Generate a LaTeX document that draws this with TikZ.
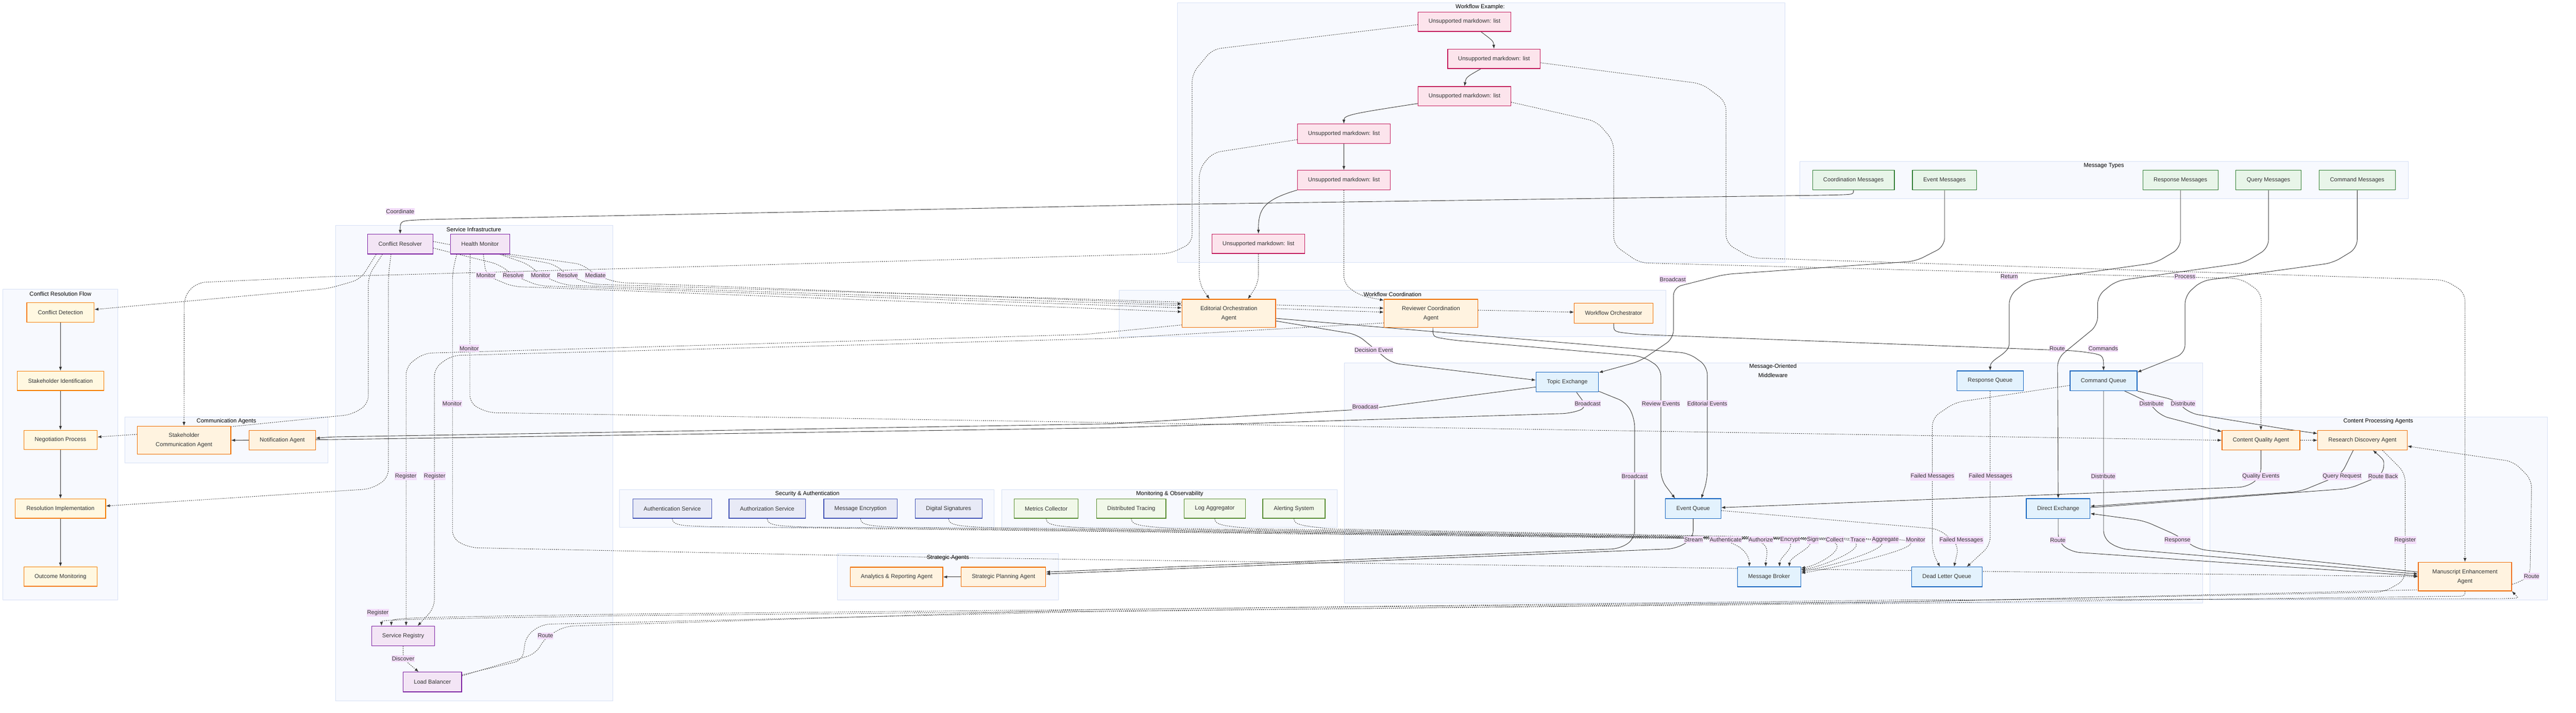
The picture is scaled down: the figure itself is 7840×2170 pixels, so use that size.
\documentclass[tikz,border=0pt]{standalone}
\usepackage{fontspec}
\setmainfont{Liberation Sans}
\usetikzlibrary{arrows.meta,calc}
\definecolor{txt}{HTML}{333333}
\definecolor{edgec}{HTML}{333333}
\definecolor{clfill}{HTML}{F7F9FE}
\definecolor{cldraw}{HTML}{D6E0F5}
\definecolor{labfill}{HTML}{F3DDFA}
\definecolor{wffill}{HTML}{FCE4EC}\definecolor{wfdraw}{HTML}{C2185B}
\definecolor{mtfill}{HTML}{E8F5E9}\definecolor{mtdraw}{HTML}{2E7D32}
\definecolor{qfill}{HTML}{E3F2FD}\definecolor{qdraw}{HTML}{1565C0}
\definecolor{agfill}{HTML}{FFF3E0}\definecolor{agdraw}{HTML}{EF6C00}
\definecolor{flfill}{HTML}{FFF8E1}\definecolor{fldraw}{HTML}{F57C00}
\definecolor{infill}{HTML}{F3E5F5}\definecolor{indraw}{HTML}{7B1FA2}
\definecolor{sefill}{HTML}{E8EAF6}\definecolor{sedraw}{HTML}{3F51B5}
\definecolor{mofill}{HTML}{F1F8E9}\definecolor{modraw}{HTML}{558B2F}
\begin{document}
\begin{tikzpicture}[x=1pt,y=-1pt,
  font=\fontsize{17.5}{28}\selectfont,
  box/.style={draw, line width=2pt, align=center, inner sep=0pt, text=txt, minimum height=59pt},
  wf/.style={box, fill=wffill, draw=wfdraw},
  mt/.style={box, fill=mtfill, draw=mtdraw, minimum height=60pt},
  qu/.style={box, fill=qfill, draw=qdraw, minimum height=60pt},
  ag/.style={box, fill=agfill, draw=agdraw},
  fl/.style={box, fill=flfill, draw=fldraw},
  inf/.style={box, fill=infill, draw=indraw, minimum height=60pt},
  sec/.style={box, fill=sefill, draw=sedraw},
  mon/.style={box, fill=mofill, draw=modraw},
  clus/.style={fill=clfill, draw=cldraw, line width=1.2pt},
  ctitle/.style={text=black, inner sep=0pt, align=center},
  elab/.style={fill=labfill, text=txt, inner xsep=1pt, inner ysep=4pt},
  e/.style={draw=edgec, line width=1.4pt, -{Latex[length=12pt,width=9pt]}, rounded corners=25pt},
  ed/.style={e, dash pattern=on 3pt off 3pt},
  dl/.style={draw=edgec, line width=1.4pt, dash pattern=on 3pt off 3pt, rounded corners=25pt}
]
\fill[white] (0,0) rectangle (7840,2170);
\useasboundingbox (0,0) rectangle (7840,2170);

% ---------- clusters ----------
\draw[clus] (3584,8) rectangle (5432,798);
\node[ctitle] (t1) at (4505,22) {Workflow Example:};
\draw[clus] (5478,491) rectangle (7329,605);
\node[ctitle] (t2) at (6403,505) {Message Types};
\draw[clus] (3407,883) rectangle (5070,1025);
\node[ctitle] (t3) at (4238,896) {Workflow Coordination};
\draw[clus] (1021,686) rectangle (1865,2133);
\node[ctitle] (t4) at (1442,699) {Service Infrastructure};
\draw[clus] (8,881) rectangle (358,1825);
\node[ctitle] (t5) at (184,894) {Conflict Resolution Flow};
\draw[clus] (380,1269) rectangle (998,1409);
\node[ctitle] (t6) at (689,1282) {Communication Agents};
\draw[clus] (1886,1490) rectangle (3026,1604);
\node[ctitle] (t7) at (2457,1503) {Security \& Authentication};
\draw[clus] (3048,1490) rectangle (4070,1604);
\node[ctitle] (t8) at (3560,1503) {Monitoring \& Observability};
\draw[clus] (2549,1685) rectangle (3221,1825);
\node[ctitle] (t9) at (2885,1698) {Strategic Agents};
\draw[clus] (4092,1105) rectangle (6704,1835);
\node[ctitle] (t10) at (5396,1128) {Message-Oriented\\Middleware};
\draw[clus] (6725,1269) rectangle (7752,1825);
\node[ctitle] (t11) at (7238,1282) {Content Processing Agents};

% ---------- nodes (coordinates only, drawn later) ----------
\path
 (4457,66) coordinate (pw1) (4547,179) coordinate (pw2);

% node definitions (drawn first invisibly to get anchors)
\begin{scope}[every node/.append style={opacity=0}]
\end{scope}

% We draw nodes now; edges are drawn on the background layer via later ordering trick:
% (nodes are redrawn after the edges so edges pass behind them)
\newcommand{\allnodes}{%
\node[wf, minimum width=282pt] (w1) at (4457,66) {Unsupported markdown: list};
\node[wf, minimum width=282pt] (w2) at (4547,179) {Unsupported markdown: list};
\node[wf, minimum width=282pt] (w3) at (4457,293) {Unsupported markdown: list};
\node[wf, minimum width=282pt] (w4) at (4090,407) {Unsupported markdown: list};
\node[wf, minimum width=282pt] (w5) at (4090,548) {Unsupported markdown: list};
\node[wf, minimum width=282pt] (w6) at (3830,742) {Unsupported markdown: list};
\node[mt, minimum width=249pt] (coordm) at (5641,548) {Coordination Messages};
\node[mt, minimum width=195pt] (eventm) at (5918,548) {Event Messages};
\node[mt, minimum width=229pt] (respm) at (6636,548) {Response Messages};
\node[mt, minimum width=199pt] (querym) at (6904,548) {Query Messages};
\node[mt, minimum width=232pt] (cmdm) at (7174,548) {Command Messages};
\node[ag, minimum width=285pt, minimum height=86pt] (eoa) at (3740,954) {Editorial Orchestration\\Agent};
\node[ag, minimum width=285pt, minimum height=86pt] (rca) at (4355,954) {Reviewer Coordination\\Agent};
\node[ag, minimum width=239pt, minimum height=61pt] (wo) at (4911,953) {Workflow Orchestrator};
\node[inf, minimum width=199pt] (cr) at (1218,743) {Conflict Resolver};
\node[inf, minimum width=180pt] (hm) at (1461,743) {Health Monitor};
\node[inf, minimum width=192pt] (sr) at (1227,1936) {Service Registry};
\node[inf, minimum width=178pt] (lb) at (1316,2076) {Load Balancer};
\node[fl, minimum width=205pt] (cd) at (184,951) {Conflict Detection};
\node[fl, minimum width=263pt] (si) at (184,1159) {Stakeholder Identification};
\node[fl, minimum width=223pt] (np) at (184,1339) {Negotiation Process};
\node[fl, minimum width=275pt] (ri) at (184,1548) {Resolution Implementation};
\node[fl, minimum width=223pt] (om) at (184,1755) {Outcome Monitoring};
\node[ag, minimum width=285pt, minimum height=85pt] (sca) at (560,1340) {Stakeholder\\Communication Agent};
\node[ag, minimum width=202pt] (na) at (859,1340) {Notification Agent};
\node[sec, minimum width=240pt] (authn) at (2046,1548) {Authentication Service};
\node[sec, minimum width=233pt] (authz) at (2335,1548) {Authorization Service};
\node[sec, minimum width=224pt] (enc) at (2619,1548) {Message Encryption};
\node[sec, minimum width=204pt] (sig) at (2887,1548) {Digital Signatures};
\node[mon, minimum width=195pt] (metrics) at (3184,1548) {Metrics Collector};
\node[mon, minimum width=211pt] (tracing) at (3443,1548) {Distributed Tracing};
\node[mon, minimum width=187pt] (logagg) at (3697,1548) {Log Aggregator};
\node[mon, minimum width=190pt] (alert) at (3938,1548) {Alerting System};
\node[ag, minimum width=281pt] (ara) at (2729,1756) {Analytics \& Reporting Agent};
\node[ag, minimum width=257pt] (spa) at (3054,1756) {Strategic Planning Agent};
\node[qu, minimum width=190pt] (te) at (4770,1163) {Topic Exchange};
\node[qu, minimum width=203pt] (rq) at (6057,1159) {Response Queue};
\node[qu, minimum width=204pt] (cq) at (6402,1159) {Command Queue};
\node[qu, minimum width=169pt] (eq) at (5153,1548) {Event Queue};
\node[qu, minimum width=194pt] (de) at (6264,1548) {Direct Exchange};
\node[qu, minimum width=193pt] (mb) at (5384,1756) {Message Broker};
\node[qu, minimum width=215pt] (dlq) at (5925,1756) {Dead Letter Queue};
\node[ag, minimum width=237pt] (cqa) at (6881,1340) {Content Quality Agent};
\node[ag, minimum width=272pt] (rda) at (7190,1340) {Research Discovery Agent};
\node[ag, minimum width=284pt, minimum height=87pt] (mea) at (7502,1755) {Manuscript Enhancement\\Agent};
}
% first pass: define anchors invisibly
\begin{scope}[opacity=0]
\allnodes
\end{scope}

% ---------- edges ----------
% workflow chain
\draw[e] ($(w1.south)+(50,0)$) .. controls (4545,125) .. (w2.north);
\draw[e] ($(w2.south)+(-40,0)$) .. controls (4462,235) .. (w3.north);
\draw[e] ($(w3.west)+(0,22)$) .. controls (4120,345) and (4090,350) .. (w4.north);
\draw[e] (w4.south) -- (w5.north);
\draw[e] (w5.south west) .. controls (3840,610) and (3830,640) .. (w6.north);
% workflow dotted
\draw[ed] ($(w1.west)+(0,9)$) -- (3690,150) -- (3628,225) -- (3628,740) -- (3560,772) -- (1000,842) -- (600,860) -- (561,900) -- (sca.north);
\draw[ed] ($(w2.east)+(0,12)$) -- (5180,255) -- (5253,310) -- (5253,740) -- (5330,785) -- (7440,852) -- (7502,890) -- (mea.north);
\draw[ed] ($(w3.east)+(0,18)$) -- (4860,370) -- (4911,430) -- (4911,745) -- (4990,800) -- (6820,848) -- (6882,890) -- (cqa.north);
\draw[ed] ($(w4.west)+(0,18)$) -- (3690,465) -- (3650,515) -- (3650,865) -- ($(eoa.north)+(-59,0)$);
\draw[ed] (w5.south) -- (4090,865) -- (4140,900) -- ($(rca.north west)+(0,4)$);
\draw[ed] (w6.south) -- (3830,862) -- ($(eoa.north)+(58,0)$);
% message types
\draw[e] (coordm.south) .. controls (5641,592) .. (5560,594) -- (3580,622) -- (1300,668) .. controls (1218,672) .. (cr.north);
\draw[e] (eventm.south) -- (5918,750) -- (5830,795) -- (5250,835) -- (5093,875) -- (5093,1030) -- (4990,1100) -- ($(te.north east)+(0,2)$);
\draw[e] (respm.south) -- (6636,755) -- (6560,800) -- (6170,855) -- (6115,900) -- (6115,1020) .. controls (6115,1080) and (6057,1090) .. (rq.north);
\draw[e] (querym.south) -- (6904,755) -- (6830,800) -- (6440,855) -- (6384,900) -- (6384,990) -- (6262,1090) -- (de.north);
\draw[e] (cmdm.south) -- (7174,755) -- (7100,800) -- (6700,855) -- (6650,900) -- (6650,1075) -- ($(cq.north east)+(0,5)$);
\draw[e] (wo.south) .. controls (4911,1010) .. (4990,1018) -- (6320,1068) .. controls (6402,1080) .. (cq.north);
% EOA / RCA
\draw[e] ($(eoa.east)+(0,23)$) -- (4130,1018) -- (4181,1060) -- (4235,1105) -- ($(te.west)+(0,-6)$);
\draw[e] ($(eoa.east)+(0,15)$) -- (5140,1075) -- (5196,1115) -- (5196,1460) -- ($(eq.north)+(25,0)$);
\draw[e] ($(rca.south)+(6,0)$) .. controls (4361,1025) .. (4420,1035) -- (5000,1085) -- (5055,1120) -- (5055,1460) -- ($(eq.north)+(-55,0)$);
\draw[ed] ($(rca.east)+(0,-10)$) -- ($(wo.west)+(0,-3)$);
\draw[ed] ($(eoa.west)+(0,35)$) -- (3300,1018) -- (1290,1075) -- (1236,1115) -- ($(sr.north)+(9,0)$);
\draw[ed] ($(rca.west)+(0,29)$) -- (3380,1030) -- (1375,1082) -- (1322,1120) -- (1322,1850) -- ($(sr.north)+(44,0)$);
% health monitor / conflict resolver
\draw[ed] ($(hm.south)+(10,0)$) -- (1479,838) -- (1560,872) -- ($(eoa.west)+(0,-5)$);
\draw[ed] ($(cr.east)+(0,12)$) -- (1520,805) -- (1562,838) -- (1640,870) -- ($(eoa.west)+(0,-17)$);
\draw[ed] ($(hm.south)+(60,0)$) -- (1610,805) -- (1645,838) -- (1720,868) -- ($(rca.west)+(0,-4)$);
\draw[ed] ($(cr.east)+(0,-8)$) -- (1690,805) -- (1727,838) -- (1800,865) -- ($(rca.west)+(0,-16)$);
\draw[ed] (hm.south east) -- (1775,805) -- (1812,838) -- (1880,860) -- ($(eoa.west)+(0,-29)$);
\draw[ed] ($(cr.south)+(-73,0)$) -- (1097,850) -- (1000,878) -- ($(cd.east)+(0,-9)$);
\draw[dl] ($(cr.south)+(-54,0)$) -- (1121,840) -- (1121,1230) -- (1070,1262) -- ($(sca.north east)+(0,2)$);
\draw[ed] ($(cr.south)+(-28,0)$) -- (1182,840) -- (1182,1455) -- (1130,1488) -- ($(ri.east)+(0,-8)$);
\draw[ed] ($(hm.south)+(-30,0)$) -- (1430,830) -- (1430,1228) -- (1485,1256) -- (cqa.west);
\draw[ed] ($(hm.south)+(-71,0)$) -- (1377,830) -- (1377,1640) -- (1430,1667) -- (2886,1697) -- (5288,1730) -- (mea.west);
% topic exchange
\draw[e] ($(te.west)+(0,15)$) -- (4160,1245) -- (3380,1290) -- (1000,1330) -- ($(na.east)+(0,-6)$);
\draw[e] ($(te.south)+(28,0)$) -- (4832,1240) -- (4780,1258) -- (3380,1302) -- (1000,1338) -- (sca.east);
\draw[e] ($(te.south east)+(0,-3)$) -- (4950,1225) -- (4975,1275) -- (4975,1640) -- (4930,1670) -- ($(spa.east)+(0,-15)$);
\draw[e] (eq.south) -- (5153,1640) -- (5100,1670) -- ($(spa.east)+(0,-9)$);
\draw[e] (spa.west) -- (ara.east);
% security & monitoring -> broker
\draw[ed] (authn.south) .. controls (2046,1598) and (2076,1600) .. (2156,1603) -- (5182,1640) .. controls (5300,1646) and (5324,1690) .. ($(mb.north)+(-60,0)$);
\draw[ed] (authz.south) .. controls (2335,1598) and (2365,1600) .. (2445,1604) -- (5289,1640) .. controls (5400,1646) and (5374,1690) .. ($(mb.north)+(-10,0)$);
\draw[ed] (enc.south) .. controls (2619,1598) and (2649,1600) .. (2729,1605) -- (5378,1640) .. controls (5500,1646) and (5416,1690) .. ($(mb.north)+(32,0)$);
\draw[ed] (sig.south) .. controls (2887,1598) and (2917,1600) .. (2997,1606) -- (5447,1640) .. controls (5570,1646) and (5446,1690) .. ($(mb.north)+(62,0)$);
\draw[ed] (metrics.south) .. controls (3184,1598) and (3214,1600) .. (3294,1607) -- (5514,1641) .. controls (5660,1648) and (5540,1720) .. ($(mb.north east)+(0,4)$);
\draw[ed] (tracing.south) .. controls (3443,1598) and (3473,1600) .. (3553,1608) -- (5584,1641) .. controls (5730,1650) and (5550,1725) .. ($(mb.north east)+(0,9)$);
\draw[ed] (logagg.south) .. controls (3697,1598) and (3727,1600) .. (3807,1609) -- (5668,1641) .. controls (5820,1652) and (5560,1728) .. ($(mb.north east)+(0,14)$);
\draw[ed] (alert.south) .. controls (3938,1598) and (3968,1600) .. (4048,1610) -- (5760,1641) .. controls (5920,1655) and (5570,1732) .. ($(mb.north east)+(0,19)$);
% queues and content agents
\draw[e] ($(cq.south)+(64,0)$) -- (6540,1225) -- (6575,1265) -- ($(cqa.north west)+(0,4)$);
\draw[e] (cq.south east) -- (6620,1218) -- (6665,1258) -- (6950,1305) -- ($(rda.north west)+(0,10)$);
\draw[e] (cq.south) -- (6402,1640) -- (6450,1670) -- ($(mea.west)+(0,-8)$);
\draw[e] (de.south) -- (6264,1650) -- (6305,1680) -- ($(mea.west)+(0,-2)$);
\draw[e] ($(mea.west)+(0,-14)$) -- (6690,1672) -- (6627,1630) -- (6525,1585) -- ($(de.east)+(0,15)$);
\draw[e] (cqa.south) -- (6881,1450) -- (6840,1482) -- ($(eq.east)+(0,-3)$);
\draw[e] ($(rda.south)+(-28,0)$) -- (7125,1445) -- (7000,1496) -- ($(de.east)+(0,-7)$);
\draw[e] ($(de.east)+(0,-3)$) -- (7150,1487) -- (7253,1445) .. controls (7256,1400) .. ($(rda.south)+(32,0)$);
\draw[ed] (rq.south) -- (6057,1660) -- ($(dlq.north)+(61,0)$);
\draw[ed] ($(cq.west)+(0,14)$) -- (5950,1225) -- (5881,1272) -- (5881,1680) -- ($(dlq.north)+(-21,0)$);
\draw[ed] ($(eq.east)+(0,6)$) -- (5900,1610) -- (5962,1660) -- ($(dlq.north)+(22,0)$);
\draw[ed] (cqa.east) -- (rda.west);
\draw[ed] ($(rda.south)+(61,0)$) -- (7320,1440) -- (7320,1765) -- (7255,1802) -- (5800,1831) -- (1900,1869) .. controls (1191,1880) .. ($(sr.north)+(-36,0)$);
\draw[ed] (mea.south) .. controls (7502,1815) .. (7440,1815) -- (5800,1836) -- (1900,1874) .. controls (1161,1886) .. ($(sr.north)+(-66,0)$);
\draw[ed] ($(lb.north east)+(0,12)$) -- (1630,1990) -- (1660,1940) -- (1720,1906) -- (3300,1856) -- (5800,1826) -- (7630,1822) .. controls (7665,1820) .. (mea.south east);
\draw[ed] ($(lb.north east)+(0,9)$) -- (1590,2010) -- (1601,1935) -- (1650,1900) -- (3300,1862) -- (5800,1832) -- (7370,1795) -- (7640,1783) -- (7700,1755) -- (7705,1460) -- (7650,1405) -- ($(rda.east)+(0,18)$);
\draw[ed, rounded corners=15pt] (sr.south) -- (1227,2005) -- ($(lb.north)+(-42,0)$);
% communication / conflict flow
\draw[ed] ($(sca.west)+(0,-18)$) -- ($(np.east)+(0,-9)$);
\draw[e] (cd.south) -- (si.north);
\draw[e] (si.south) -- (np.north);
\draw[e] (np.south) -- (ri.north);
\draw[e] (ri.south) -- (om.north);

% ---------- nodes on top ----------
\allnodes

% ---------- edge labels ----------
\node[elab] (l1) at (1218,644) {Coordinate};
\node[elab] (l2) at (1479,838) {Monitor};
\node[elab] (l3) at (1562,838) {Resolve};
\node[elab] (l4) at (1645,838) {Monitor};
\node[elab] (l5) at (1727,838) {Resolve};
\node[elab] (l6) at (1812,838) {Mediate};
\node[elab] (l7) at (1428,1060) {Monitor};
\node[elab] (l8) at (1376,1228) {Monitor};
\node[elab] (l9) at (1235,1449) {Register};
\node[elab] (l10) at (1323,1449) {Register};
\node[elab] (l11) at (1150,1865) {Register};
\node[elab] (l12) at (1227,2005) {Discover};
\node[elab] (l13) at (1660,1935) {Route};
\node[elab] (l14) at (5091,850) {Broadcast};
\node[elab] (l15) at (6115,842) {Return};
\node[elab] (l16) at (6650,842) {Process};
\node[elab] (l17) at (6261,1061) {Route};
\node[elab] (l18) at (6401,1061) {Commands};
\node[elab] (l19) at (4181,1066) {Decision Event};
\node[elab] (l20) at (4155,1238) {Broadcast};
\node[elab] (l21) at (4832,1228) {Broadcast};
\node[elab] (l22) at (5055,1228) {Review Events};
\node[elab] (l23) at (5196,1228) {Editorial Events};
\node[elab] (l24) at (4975,1449) {Broadcast};
\node[elab] (l25) at (6548,1229) {Distribute};
\node[elab] (l26) at (6644,1229) {Distribute};
\node[elab] (l27) at (5881,1450) {Failed Messages};
\node[elab] (l28) at (6058,1450) {Failed Messages};
\node[elab] (l29) at (6401,1450) {Distribute};
\node[elab] (l30) at (6881,1450) {Quality Events};
\node[elab] (l31) at (7128,1450) {Query Request};
\node[elab] (l32) at (7253,1450) {Route Back};
\node[elab] (l33) at (5154,1643) {Stream};
\node[elab] (l34) at (5252,1643) {Authenticate};
\node[elab] (l35) at (5359,1643) {Authorize};
\node[elab] (l36) at (5448,1643) {Encrypt};
\node[elab] (l37) at (5517,1643) {Sign};
\node[elab] (l38) at (5584,1643) {Collect};
\node[elab] (l39) at (5654,1643) {Trace};
\node[elab] (l40) at (5738,1643) {Aggregate};
\node[elab] (l41) at (5830,1643) {Monitor};
\node[elab] (l42) at (5969,1644) {Failed Messages};
\node[elab] (l43) at (6263,1644) {Route};
\node[elab] (l44) at (6627,1644) {Response};
\node[elab] (l45) at (7320,1644) {Register};
\node[elab] (l46) at (7705,1754) {Route};
\end{tikzpicture}
\end{document}
